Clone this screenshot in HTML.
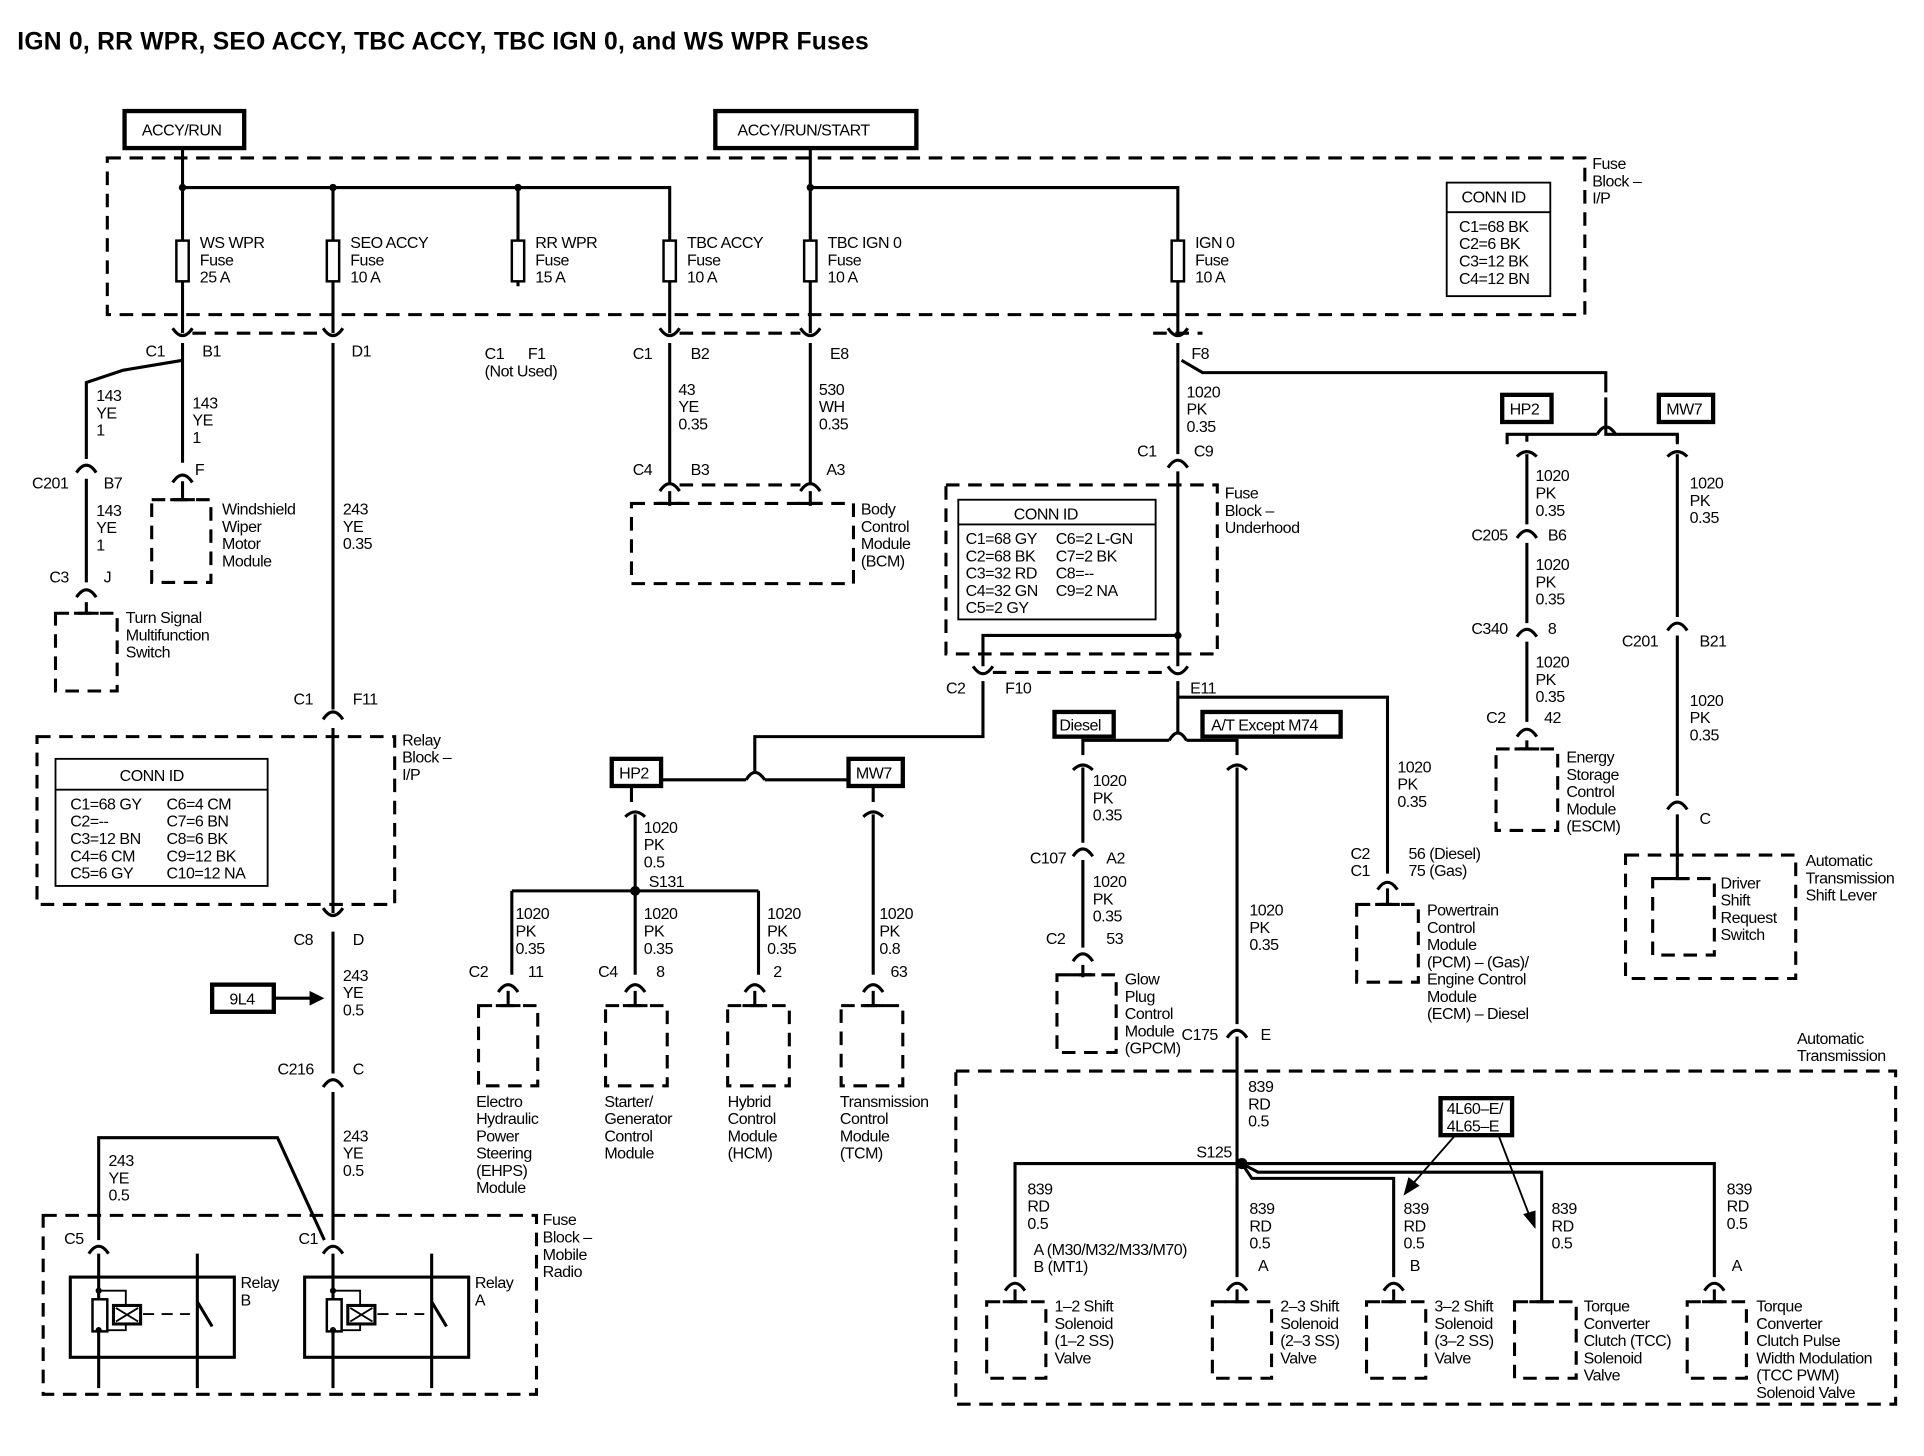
<!DOCTYPE html>
<html><head><meta charset="utf-8"><style>
html,body{margin:0;padding:0;background:#fff}
svg{display:block}
text{font-family:"Liberation Sans",sans-serif;font-size:13px;fill:#000;letter-spacing:-0.4px}
.w{stroke:#000;stroke-width:2.5;fill:none}
.t{stroke:#000;stroke-width:1.5;fill:none}
.d{stroke:#000;stroke-width:2.5;fill:none;stroke-dasharray:11,7}
.b{stroke:#000;stroke-width:3.5;fill:#fff}
</style></head><body>
<svg width="1924" height="1456" viewBox="0 0 1560 1180" preserveAspectRatio="none" xmlns="http://www.w3.org/2000/svg">
<defs>
<g id="cp"><path class="w" d="M-8,8 Q0,-4 8,8"/></g>
<g id="cu"><path class="w" d="M-8,-6 Q0,6 8,-6"/></g>
</defs>
<text x="14" y="40" style="font-size:20px;font-weight:bold;letter-spacing:0.2px">IGN 0, RR WPR, SEO ACCY, TBC ACCY, TBC IGN 0, and WS WPR Fuses</text>

<!-- top power boxes -->
<rect x="101" y="90" width="97" height="30" class="b"/><text x="115" y="110">ACCY/RUN</text>
<rect x="580" y="90" width="163" height="30" class="b"/><text x="598" y="110">ACCY/RUN/START</text>
<path class="w" d="M148,120V152H543V270M657,120V152H955V270M270,152V270M420,152V232M148,152V270M657,152V270"/>
<circle cx="148" cy="152" r="3"/><circle cx="270" cy="152" r="3"/><circle cx="420" cy="152" r="3"/><circle cx="657" cy="152" r="3"/>
<rect x="87" y="128" width="1198" height="127" class="d"/>
<text><tspan x="1291" y="137">Fuse</tspan><tspan x="1291" y="151">Block –</tspan><tspan x="1291" y="165">I/P</tspan></text>
<rect x="1173" y="148" width="84" height="92" class="t" stroke-width="2"/><line x1="1173" y1="172" x2="1257" y2="172" class="t"/>
<text><tspan x="1185" y="164">CONN ID</tspan><tspan x="1183" y="188">C1=68 BK</tspan><tspan x="1183" y="202">C2=6 BK</tspan><tspan x="1183" y="216">C3=12 BK</tspan><tspan x="1183" y="230">C4=12 BN</tspan></text>
<g fill="#fff" stroke="#000" stroke-width="2">
<rect x="143" y="195" width="10" height="33"/><rect x="265" y="195" width="10" height="33"/><rect x="415" y="195" width="10" height="33"/><rect x="538" y="195" width="10" height="33"/><rect x="652" y="195" width="10" height="33"/><rect x="950" y="195" width="10" height="33"/></g>
<text><tspan x="162" y="201">WS WPR</tspan><tspan x="162" y="215">Fuse</tspan><tspan x="162" y="229">25 A</tspan></text>
<text><tspan x="284" y="201">SEO ACCY</tspan><tspan x="284" y="215">Fuse</tspan><tspan x="284" y="229">10 A</tspan></text>
<text><tspan x="434" y="201">RR WPR</tspan><tspan x="434" y="215">Fuse</tspan><tspan x="434" y="229">15 A</tspan></text>
<text><tspan x="557" y="201">TBC ACCY</tspan><tspan x="557" y="215">Fuse</tspan><tspan x="557" y="229">10 A</tspan></text>
<text><tspan x="671" y="201">TBC IGN 0</tspan><tspan x="671" y="215">Fuse</tspan><tspan x="671" y="229">10 A</tspan></text>
<text><tspan x="969" y="201">IGN 0</tspan><tspan x="969" y="215">Fuse</tspan><tspan x="969" y="229">10 A</tspan></text>

<!-- bottom connectors of fuse block -->
<use href="#cu" x="148" y="272"/><use href="#cu" x="270" y="272"/><use href="#cu" x="543" y="272"/><use href="#cu" x="657" y="272"/><use href="#cu" x="955" y="272"/>
<path class="d" d="M156,270H262M551,270H649" stroke-dasharray="6,5"/>
<path class="d" d="M935,270H975" stroke-dasharray="6,5"/>
<text x="118" y="289">C1</text><text x="164" y="289">B1</text><text x="285" y="289">D1</text>
<text><tspan x="393" y="291">C1</tspan><tspan x="428" y="291">F1</tspan><tspan x="393" y="305">(Not Used)</tspan></text>
<text x="513" y="291">C1</text><text x="560" y="291">B2</text><text x="673" y="291">E8</text><text x="966" y="291">F8</text>

<!-- left branches -->
<path class="w" d="M148,278V375M148,292L100,300L70,310V372M70,388V472M148,390V405M70,488V498"/>
<text><tspan x="78" y="325">143</tspan><tspan x="78" y="339">YE</tspan><tspan x="78" y="353">1</tspan></text>
<text><tspan x="156" y="331">143</tspan><tspan x="156" y="345">YE</tspan><tspan x="156" y="359">1</tspan></text>
<use href="#cp" x="70" y="375"/><text x="26" y="396">C201</text><text x="84" y="396">B7</text>
<text><tspan x="78" y="418">143</tspan><tspan x="78" y="432">YE</tspan><tspan x="78" y="446">1</tspan></text>
<use href="#cp" x="148" y="383"/><text x="158" y="385">F</text>
<path class="w" d="M138,405H158"/>
<rect x="123" y="405" width="48" height="67" class="d"/>
<text><tspan x="180" y="417">Windshield</tspan><tspan x="180" y="431">Wiper</tspan><tspan x="180" y="445">Motor</tspan><tspan x="180" y="459">Module</tspan></text>
<use href="#cp" x="70" y="476"/><text x="40" y="472">C3</text><text x="84" y="472">J</text>
<path class="w" d="M60,497H80"/>
<rect x="45" y="497" width="50" height="63" class="d"/>
<text><tspan x="102" y="505">Turn Signal</tspan><tspan x="102" y="519">Multifunction</tspan><tspan x="102" y="533">Switch</tspan></text>

<!-- 270 line -->
<path class="w" d="M270,278V575M270,590V740M270,755V870M270,885V1005"/>
<text><tspan x="278" y="417">243</tspan><tspan x="278" y="431">YE</tspan><tspan x="278" y="445">0.35</tspan></text>
<use href="#cp" x="270" y="575"/><text x="238" y="571">C1</text><text x="286" y="571">F11</text>
<rect x="30" y="597" width="290" height="136" class="d"/>
<text><tspan x="326" y="604">Relay</tspan><tspan x="326" y="618">Block –</tspan><tspan x="326" y="632">I/P</tspan></text>
<rect x="45" y="615" width="172" height="103" class="t" stroke-width="2"/><line x1="45" y1="640" x2="217" y2="640" class="t"/>
<text><tspan x="97" y="633">CONN ID</tspan></text>
<text><tspan x="57" y="656">C1=68 GY</tspan><tspan x="57" y="670">C2=--</tspan><tspan x="57" y="684">C3=12 BN</tspan><tspan x="57" y="698">C4=6 CM</tspan><tspan x="57" y="712">C5=6 GY</tspan></text>
<text><tspan x="135" y="656">C6=4 CM</tspan><tspan x="135" y="670">C7=6 BN</tspan><tspan x="135" y="684">C8=6 BK</tspan><tspan x="135" y="698">C9=12 BK</tspan><tspan x="135" y="712">C10=12 NA</tspan></text>
<use href="#cu" x="270" y="742"/><text x="238" y="766">C8</text><text x="286" y="766">D</text>
<text><tspan x="278" y="795">243</tspan><tspan x="278" y="809">YE</tspan><tspan x="278" y="823">0.5</tspan></text>
<rect x="172" y="798" width="50" height="22" class="b" stroke-width="2.5"/><text x="186" y="814">9L4</text>
<path class="w" d="M222,809H255"/><path d="M263,809L251,803V815Z"/>
<use href="#cp" x="270" y="873"/><text x="225" y="871">C216</text><text x="286" y="871">C</text>
<text><tspan x="278" y="925">243</tspan><tspan x="278" y="939">YE</tspan><tspan x="278" y="953">0.5</tspan></text>
<path class="w" d="M80,1005V922H225L263,1005"/>
<text><tspan x="88" y="945">243</tspan><tspan x="88" y="959">YE</tspan><tspan x="88" y="973">0.5</tspan></text>
<rect x="35" y="985" width="400" height="145" class="d"/>
<text><tspan x="440" y="993">Fuse</tspan><tspan x="440" y="1007">Block –</tspan><tspan x="440" y="1021">Mobile</tspan><tspan x="440" y="1035">Radio</tspan></text>
<use href="#cp" x="80" y="1008"/><text x="52" y="1008">C5</text>
<use href="#cp" x="270" y="1008"/><text x="242" y="1008">C1</text>
<g id="relay">
<rect x="57" y="1035" width="133" height="65" class="w"/>
<path class="w" d="M80,1016V1125M160,1016V1125" stroke-width="3.5"/>
<path class="t" stroke-width="2" d="M80,1046H102V1078H80"/>
<rect x="75" y="1053" width="12" height="26" fill="#fff" stroke="#000" stroke-width="2"/>
<rect x="92" y="1058" width="22" height="15" fill="#fff" stroke="#000" stroke-width="2.5"/>
<path class="t" d="M94,1060L112,1071M112,1060L94,1071"/>
<path class="t" stroke-width="2.5" stroke-dasharray="9,6" d="M116,1065H154"/>
<path class="w" d="M160,1055L172,1075" stroke-width="2"/>
<circle cx="80" cy="1046" r="2.5"/><circle cx="80" cy="1078" r="2.5"/>
</g>
<use href="#relay" x="190" y="0"/>
<text><tspan x="195" y="1044">Relay</tspan><tspan x="195" y="1058">B</tspan></text>
<text><tspan x="385" y="1044">Relay</tspan><tspan x="385" y="1058">A</tspan></text>

<!-- BCM -->
<path class="w" d="M543,278V392M657,278V392"/>
<text><tspan x="550" y="320">43</tspan><tspan x="550" y="334">YE</tspan><tspan x="550" y="348">0.35</tspan></text>
<text><tspan x="664" y="320">530</tspan><tspan x="664" y="334">WH</tspan><tspan x="664" y="348">0.35</tspan></text>
<use href="#cp" x="543" y="390"/><use href="#cp" x="657" y="390"/>
<path class="d" d="M551,393H649" stroke-dasharray="6,5"/>
<text x="513" y="385">C4</text><text x="560" y="385">B3</text><text x="670" y="385">A3</text>
<path class="w" d="M543,398V410M657,398V410M533,408H553M647,408H667"/>
<rect x="512" y="408" width="180" height="65" class="d"/>
<text><tspan x="698" y="417">Body</tspan><tspan x="698" y="431">Control</tspan><tspan x="698" y="445">Module</tspan><tspan x="698" y="459">(BCM)</tspan></text>

<!-- IGN0 right -->
<path class="w" d="M955,278V368M955,382V515H797V540M955,515V540"/>
<circle cx="955" cy="515" r="3"/>
<text><tspan x="962" y="322">1020</tspan><tspan x="962" y="336">PK</tspan><tspan x="962" y="350">0.35</tspan></text>
<use href="#cp" x="955" y="371"/><text x="922" y="370">C1</text><text x="968" y="370">C9</text>
<rect x="767" y="393" width="220" height="137" class="d"/>
<text><tspan x="993" y="404">Fuse</tspan><tspan x="993" y="418">Block –</tspan><tspan x="993" y="432">Underhood</tspan></text>
<rect x="777" y="405" width="160" height="97" class="t" stroke-width="2"/><line x1="777" y1="425" x2="937" y2="425" class="t"/>
<text x="822" y="421">CONN ID</text>
<text><tspan x="783" y="441">C1=68 GY</tspan><tspan x="783" y="455">C2=68 BK</tspan><tspan x="783" y="469">C3=32 RD</tspan><tspan x="783" y="483">C4=32 GN</tspan><tspan x="783" y="497">C5=2 GY</tspan></text>
<text><tspan x="856" y="441">C6=2 L-GN</tspan><tspan x="856" y="455">C7=2 BK</tspan><tspan x="856" y="469">C8=--</tspan><tspan x="856" y="483">C9=2 NA</tspan></text>
<use href="#cu" x="797" y="546"/><use href="#cu" x="955" y="546"/>
<path class="d" d="M805,545H947" stroke-dasharray="6,5"/>
<text x="767" y="562">C2</text><text x="815" y="562">F10</text><text x="965" y="562">E11</text>

<!-- F8 branch to HP2/MW7 -->
<path class="w" d="M958,292L975,302H1302V318M1302,322V352H1312M1295,352H1222V360M1312,352H1360V360"/>
<path class="w" d="M1295,352Q1302,340 1310,352"/>
<rect x="1218" y="320" width="40" height="22" class="b" stroke-width="2.5"/><text x="1224" y="336">HP2</text>
<rect x="1345" y="320" width="44" height="22" class="b" stroke-width="2.5"/><text x="1351" y="336">MW7</text>
<path class="w" d="M1238,352V358M1360,352V358"/>
<path class="w" d="M1230,370Q1238,362 1246,370M1352,370Q1360,362 1368,370"/>
<path class="w" d="M1238,368V425M1238,440V505M1238,520V585M1238,600V608M1360,368V500M1360,515V645M1360,660V712"/>
<text><tspan x="1245" y="390">1020</tspan><tspan x="1245" y="404">PK</tspan><tspan x="1245" y="418">0.35</tspan></text>
<use href="#cp" x="1238" y="428"/><text x="1193" y="438">C205</text><text x="1255" y="438">B6</text>
<text><tspan x="1245" y="462">1020</tspan><tspan x="1245" y="476">PK</tspan><tspan x="1245" y="490">0.35</tspan></text>
<use href="#cp" x="1238" y="508"/><text x="1193" y="514">C340</text><text x="1255" y="514">8</text>
<text><tspan x="1245" y="541">1020</tspan><tspan x="1245" y="555">PK</tspan><tspan x="1245" y="569">0.35</tspan></text>
<use href="#cp" x="1238" y="589"/><text x="1205" y="586">C2</text><text x="1252" y="586">42</text>
<path class="w" d="M1228,607H1248"/>
<rect x="1213" y="607" width="50" height="66" class="d"/>
<text><tspan x="1270" y="618">Energy</tspan><tspan x="1270" y="632">Storage</tspan><tspan x="1270" y="646">Control</tspan><tspan x="1270" y="660">Module</tspan><tspan x="1270" y="674">(ESCM)</tspan></text>
<text><tspan x="1370" y="396">1020</tspan><tspan x="1370" y="410">PK</tspan><tspan x="1370" y="424">0.35</tspan></text>
<use href="#cp" x="1360" y="503"/><text x="1315" y="524">C201</text><text x="1378" y="524">B21</text>
<text><tspan x="1370" y="572">1020</tspan><tspan x="1370" y="586">PK</tspan><tspan x="1370" y="600">0.35</tspan></text>
<use href="#cp" x="1360" y="648"/><text x="1378" y="668">C</text>
<rect x="1318" y="693" width="138" height="100" class="d"/>
<rect x="1340" y="712" width="50" height="62" class="d"/>
<path class="w" d="M1350,712H1370"/>
<text><tspan x="1395" y="720">Driver</tspan><tspan x="1395" y="734">Shift</tspan><tspan x="1395" y="748">Request</tspan><tspan x="1395" y="762">Switch</tspan></text>
<text><tspan x="1464" y="702">Automatic</tspan><tspan x="1464" y="716">Transmission</tspan><tspan x="1464" y="730">Shift Lever</tspan></text>

<!-- F10 branch -->
<path class="w" d="M797,552V597H612V625M605,632H512V650M620,632H708V650"/>
<path class="w" d="M605,632Q612,620 620,632"/>
<rect x="496" y="615" width="40" height="22" class="b" stroke-width="2.5"/><text x="502" y="631">HP2</text>
<rect x="688" y="615" width="44" height="22" class="b" stroke-width="2.5"/><text x="694" y="631">MW7</text>
<path class="w" d="M507,662Q515,654 523,662M700,662Q708,654 716,662"/>
<path class="w" d="M515,660V722M415,722H615M415,722V790M515,722V790M615,722V790M708,660V790"/>
<circle cx="515" cy="722" r="4"/>
<text><tspan x="522" y="675">1020</tspan><tspan x="522" y="689">PK</tspan><tspan x="522" y="703">0.5</tspan></text>
<text x="526" y="719">S131</text>
<text><tspan x="418" y="745">1020</tspan><tspan x="418" y="759">PK</tspan><tspan x="418" y="773">0.35</tspan></text>
<text><tspan x="522" y="745">1020</tspan><tspan x="522" y="759">PK</tspan><tspan x="522" y="773">0.35</tspan></text>
<text><tspan x="622" y="745">1020</tspan><tspan x="622" y="759">PK</tspan><tspan x="622" y="773">0.35</tspan></text>
<text><tspan x="713" y="745">1020</tspan><tspan x="713" y="759">PK</tspan><tspan x="713" y="773">0.8</tspan></text>
<use href="#cp" x="412" y="796"/><use href="#cp" x="515" y="796"/><use href="#cp" x="612" y="796"/><use href="#cp" x="708" y="796"/>
<text x="380" y="792">C2</text><text x="428" y="792">11</text><text x="485" y="792">C4</text><text x="532" y="792">8</text><text x="627" y="792">2</text><text x="722" y="792">63</text>
<path class="w" d="M412,803V815M515,803V815M612,803V815M708,803V815M402,815H422M505,815H525M602,815H622M698,815H718"/>
<rect x="388" y="815" width="48" height="65" class="d"/><rect x="491" y="815" width="50" height="65" class="d"/><rect x="590" y="815" width="50" height="65" class="d"/><rect x="682" y="815" width="50" height="65" class="d"/>
<text><tspan x="386" y="897">Electro</tspan><tspan x="386" y="911">Hydraulic</tspan><tspan x="386" y="925">Power</tspan><tspan x="386" y="939">Steering</tspan><tspan x="386" y="953">(EHPS)</tspan><tspan x="386" y="967">Module</tspan></text>
<text><tspan x="490" y="897">Starter/</tspan><tspan x="490" y="911">Generator</tspan><tspan x="490" y="925">Control</tspan><tspan x="490" y="939">Module</tspan></text>
<text><tspan x="590" y="897">Hybrid</tspan><tspan x="590" y="911">Control</tspan><tspan x="590" y="925">Module</tspan><tspan x="590" y="939">(HCM)</tspan></text>
<text><tspan x="681" y="897">Transmission</tspan><tspan x="681" y="911">Control</tspan><tspan x="681" y="925">Module</tspan><tspan x="681" y="939">(TCM)</tspan></text>

<!-- E11 branch -->
<path class="w" d="M955,552V593M948,600H878V612M962,600H1003V612M955,565H1125V708"/>
<path class="w" d="M948,600Q955,588 962,600"/>
<rect x="855" y="577" width="48" height="20" class="b" stroke-width="2.5"/><text x="859" y="592">Diesel</text>
<rect x="975" y="577" width="112" height="20" class="b" stroke-width="2.5"/><text x="982" y="592">A/T Except M74</text>
<path class="w" d="M870,624Q878,616 886,624M995,624Q1003,616 1011,624"/>
<path class="w" d="M878,622V683M878,697V768M878,782V792M1003,622V830"/>
<text><tspan x="886" y="637">1020</tspan><tspan x="886" y="651">PK</tspan><tspan x="886" y="665">0.35</tspan></text>
<use href="#cp" x="878" y="686"/><text x="835" y="700">C107</text><text x="897" y="700">A2</text>
<text><tspan x="886" y="719">1020</tspan><tspan x="886" y="733">PK</tspan><tspan x="886" y="747">0.35</tspan></text>
<use href="#cp" x="878" y="771"/><text x="848" y="765">C2</text><text x="897" y="765">53</text>
<path class="w" d="M868,790H888"/>
<rect x="857" y="790" width="48" height="63" class="d"/>
<text><tspan x="912" y="798">Glow</tspan><tspan x="912" y="812">Plug</tspan><tspan x="912" y="826">Control</tspan><tspan x="912" y="840">Module</tspan><tspan x="912" y="854">(GPCM)</tspan></text>
<text><tspan x="1133" y="626">1020</tspan><tspan x="1133" y="640">PK</tspan><tspan x="1133" y="654">0.35</tspan></text>
<text><tspan x="1095" y="696">C2</tspan><tspan x="1095" y="710">C1</tspan></text>
<text><tspan x="1142" y="696">56 (Diesel)</tspan><tspan x="1142" y="710">75 (Gas)</tspan></text>
<use href="#cp" x="1125" y="713"/>
<path class="w" d="M1125,720V733M1115,733H1135"/>
<rect x="1100" y="733" width="50" height="63" class="d"/>
<text><tspan x="1157" y="742">Powertrain</tspan><tspan x="1157" y="756">Control</tspan><tspan x="1157" y="770">Module</tspan><tspan x="1157" y="784">(PCM) – (Gas)/</tspan><tspan x="1157" y="798">Engine Control</tspan><tspan x="1157" y="812">Module</tspan><tspan x="1157" y="826">(ECM) – Diesel</tspan></text>
<text><tspan x="1013" y="742">1020</tspan><tspan x="1013" y="756">PK</tspan><tspan x="1013" y="770">0.35</tspan></text>
<use href="#cp" x="1003" y="833"/><text x="958" y="843">C175</text><text x="1022" y="843">E</text>

<!-- Automatic transmission -->
<rect x="775" y="868" width="762" height="270" class="d"/>
<text><tspan x="1457" y="846">Automatic</tspan><tspan x="1457" y="860">Transmission</tspan></text>
<path class="w" d="M1003,840V943"/>
<text><tspan x="1012" y="885">839</tspan><tspan x="1012" y="899">RD</tspan><tspan x="1012" y="913">0.5</tspan></text>
<text x="970" y="938">S125</text>
<path class="w" d="M1007,943H823V1035M1003,943V1035M1007,943L1015,955H1130V1035M1007,943L1020,950H1250V1055M1007,943H1390V1035"/>
<circle cx="1007" cy="943" r="4.5"/>
<rect x="1168" y="890" width="58" height="30" class="b" stroke-width="2.5"/>
<text><tspan x="1173" y="903">4L60–E/</tspan><tspan x="1173" y="917">4L65–E</tspan></text>
<path class="t" stroke-width="2" d="M1180,920L1145,960M1215,920L1240,985"/>
<path d="M1138,969L1142,954L1151,961Z"/><path d="M1245,996L1235,984L1245,981Z"/>
<text><tspan x="833" y="968">839</tspan><tspan x="833" y="982">RD</tspan><tspan x="833" y="996">0.5</tspan></text>
<text><tspan x="1013" y="984">839</tspan><tspan x="1013" y="998">RD</tspan><tspan x="1013" y="1012">0.5</tspan></text>
<text><tspan x="1138" y="984">839</tspan><tspan x="1138" y="998">RD</tspan><tspan x="1138" y="1012">0.5</tspan></text>
<text><tspan x="1258" y="984">839</tspan><tspan x="1258" y="998">RD</tspan><tspan x="1258" y="1012">0.5</tspan></text>
<text><tspan x="1400" y="968">839</tspan><tspan x="1400" y="982">RD</tspan><tspan x="1400" y="996">0.5</tspan></text>
<text><tspan x="838" y="1017">A (M30/M32/M33/M70)</tspan><tspan x="838" y="1031">B (MT1)</tspan></text>
<text x="1020" y="1030">A</text><text x="1143" y="1030">B</text><text x="1404" y="1030">A</text>
<use href="#cp" x="823" y="1038"/><use href="#cp" x="1003" y="1038"/><use href="#cp" x="1130" y="1038"/><use href="#cp" x="1390" y="1038"/>
<path class="w" d="M823,1045V1055M1003,1045V1055M1130,1045V1055M1390,1045V1055M813,1055H833M993,1055H1013M1120,1055H1140M1240,1055H1260M1380,1055H1400"/>
<rect x="800" y="1055" width="48" height="62" class="d"/><rect x="983" y="1055" width="48" height="62" class="d"/><rect x="1108" y="1055" width="48" height="62" class="d"/><rect x="1228" y="1055" width="50" height="62" class="d"/><rect x="1368" y="1055" width="48" height="62" class="d"/>
<text><tspan x="855" y="1063">1–2 Shift</tspan><tspan x="855" y="1077">Solenoid</tspan><tspan x="855" y="1091">(1–2 SS)</tspan><tspan x="855" y="1105">Valve</tspan></text>
<text><tspan x="1038" y="1063">2–3 Shift</tspan><tspan x="1038" y="1077">Solenoid</tspan><tspan x="1038" y="1091">(2–3 SS)</tspan><tspan x="1038" y="1105">Valve</tspan></text>
<text><tspan x="1163" y="1063">3–2 Shift</tspan><tspan x="1163" y="1077">Solenoid</tspan><tspan x="1163" y="1091">(3–2 SS)</tspan><tspan x="1163" y="1105">Valve</tspan></text>
<text><tspan x="1284" y="1063">Torque</tspan><tspan x="1284" y="1077">Converter</tspan><tspan x="1284" y="1091">Clutch (TCC)</tspan><tspan x="1284" y="1105">Solenoid</tspan><tspan x="1284" y="1119">Valve</tspan></text>
<text><tspan x="1424" y="1063">Torque</tspan><tspan x="1424" y="1077">Converter</tspan><tspan x="1424" y="1091">Clutch Pulse</tspan><tspan x="1424" y="1105">Width Modulation</tspan><tspan x="1424" y="1119">(TCC PWM)</tspan><tspan x="1424" y="1133">Solenoid Valve</tspan></text>
</svg>
</body></html>
